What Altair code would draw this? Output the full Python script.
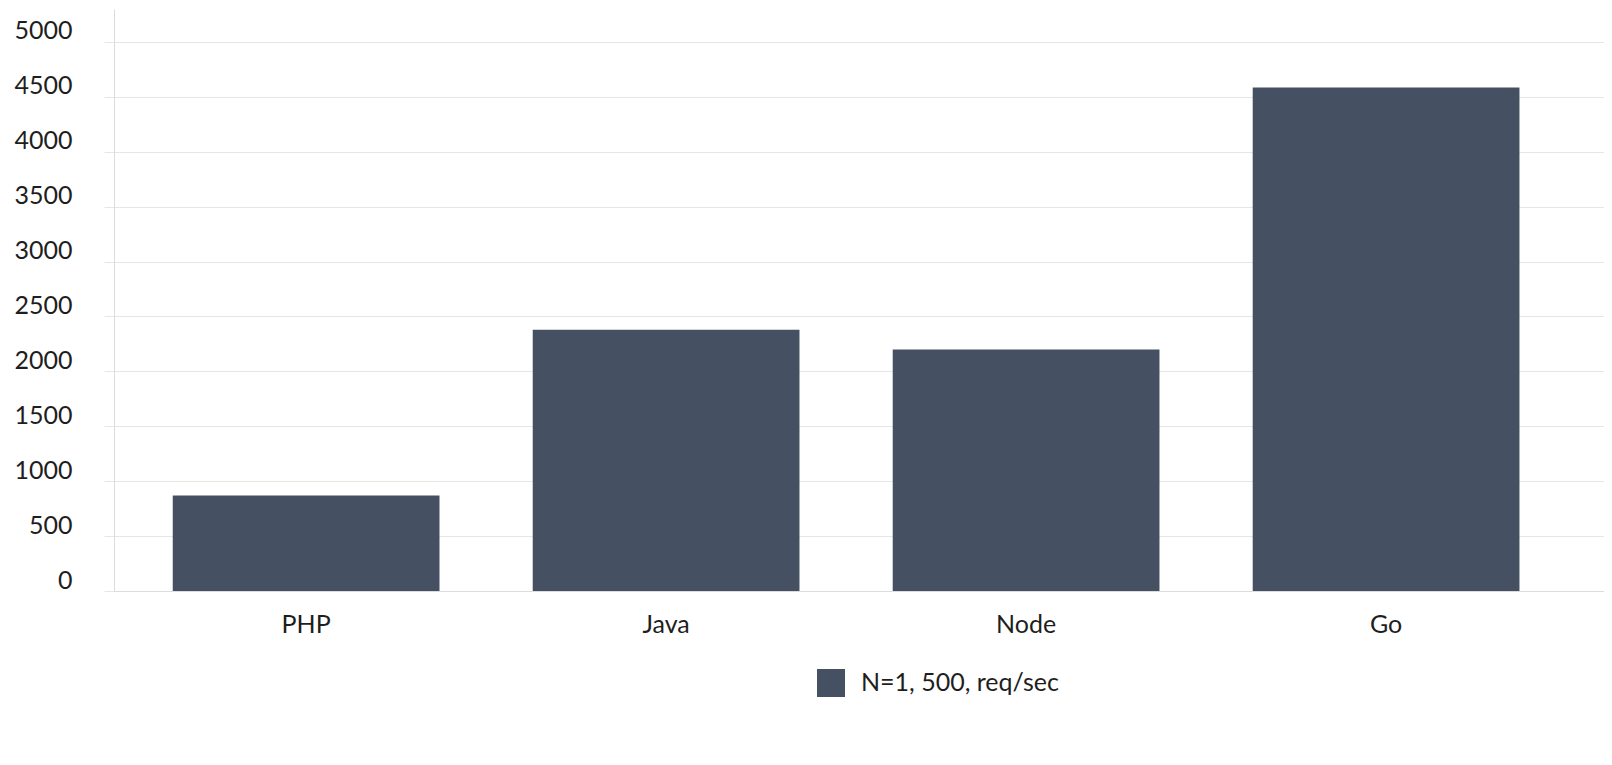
import altair as alt
import pandas as pd

languages = ["PHP", "Java", "Node", "Go"]
req_per_sec = [870, 2380, 2200, 4585]
series_name = "N=1, 500, req/sec"
y_ticks = [0, 500, 1000, 1500, 2000, 2500, 3000, 3500, 4000, 4500, 5000]

df = pd.DataFrame({
    "lang": languages,
    "value": req_per_sec,
    "series": [series_name] * len(languages),
})

BAR = "#465063"
GRID = "#e6e6e6"
TEXT = "#1e1e1e"
FONT = "Lato"
FS = 25

chart = alt.Chart(df).mark_bar().encode(
    x=alt.X(
        "lang:N", sort=languages, title=None,
        scale=alt.Scale(paddingInner=0.259, paddingOuter=0.199, align=0.41),
        axis=alt.Axis(labelAngle=0, ticks=False, grid=False, domainColor="#dcdcdc",
                      labelPadding=21, labelBaseline="top", labelFontSize=FS,
                      labelColor=TEXT, labelFont=FONT),
    ),
    y=alt.Y(
        "value:Q", title=None,
        scale=alt.Scale(domain=[0, 5300], nice=False),
        axis=alt.Axis(values=y_ticks, format="d", grid=True, gridColor=GRID, tickColor=GRID,
                      tickSize=10, domainColor="#dcdcdc", labelPadding=32,
                      labelBaseline="alphabetic", labelOffset=-3, labelFontSize=FS,
                      labelColor=TEXT, labelFont=FONT, labelFlush=False),
    ),
    color=alt.Color(
        "series:N", scale=alt.Scale(range=[BAR]),
        legend=alt.Legend(title=None, orient="none", legendX=703, legendY=660,
                          symbolType="square", symbolSize=784, symbolStrokeWidth=0,
                          labelFontSize=FS, labelFont=FONT, labelColor=TEXT,
                          labelOffset=16, labelLimit=0, padding=0),
    ),
).properties(
    width=1490,
    height=582,
    padding={"left": 106, "top": 1, "right": 0, "bottom": 150},
    autosize="none",
).configure_view(stroke=None)

chart.save("out.html", embed_options={"renderer": "svg", "actions": False})
